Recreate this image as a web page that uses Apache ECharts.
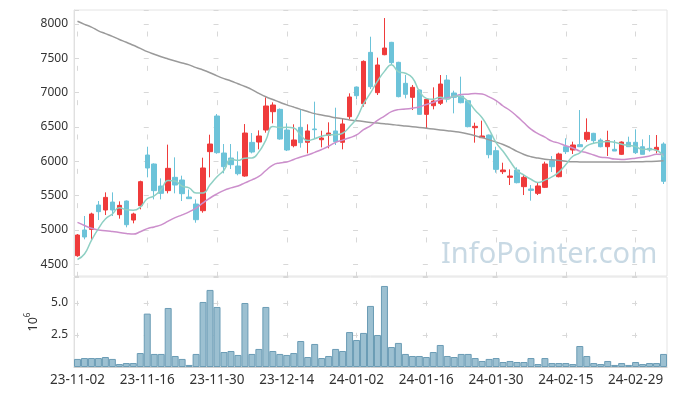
<!DOCTYPE html>
<html>
<head>
<meta charset="utf-8">
<script src="https://cdn.jsdelivr.net/npm/echarts@6/dist/echarts.min.js"></script>
<style>
html,body{margin:0;padding:0;background:#fff;}
#chart{width:677px;height:396px;}
</style>
</head>
<body>
<div id="chart"></div>
<script>
const dates = ['23-11-02','23-11-03','23-11-06','23-11-07','23-11-08','23-11-09','23-11-10','23-11-13','23-11-14','23-11-15',
'23-11-16','23-11-17','23-11-20','23-11-21','23-11-22','23-11-23','23-11-24','23-11-27','23-11-28','23-11-29',
'23-11-30','23-12-01','23-12-04','23-12-05','23-12-06','23-12-07','23-12-08','23-12-11','23-12-12','23-12-13',
'23-12-14','23-12-15','23-12-18','23-12-19','23-12-20','23-12-21','23-12-22','23-12-26','23-12-27','23-12-28',
'24-01-02','24-01-03','24-01-04','24-01-05','24-01-08','24-01-09','24-01-10','24-01-11','24-01-12','24-01-15',
'24-01-16','24-01-17','24-01-18','24-01-19','24-01-22','24-01-23','24-01-24','24-01-25','24-01-26','24-01-29',
'24-01-30','24-01-31','24-02-01','24-02-02','24-02-05','24-02-06','24-02-07','24-02-08','24-02-13','24-02-14',
'24-02-15','24-02-16','24-02-19','24-02-20','24-02-21','24-02-22','24-02-23','24-02-26','24-02-27','24-02-28',
'24-02-29','24-03-04','24-03-05','24-03-06','24-03-07'];

const opens = [4626,5000,5009,5364,5291,5407,5223,5422,5145,5354,
6092,5961,5640,5573,5767,5728,5480,5378,5281,6141,
6660,6121,6048,5932,5786,6276,6281,6456,6723,6757,
6456,6228,6495,6277,6471,6315,6378,6442,6277,6650,
7082,6840,7587,7000,7553,7733,7442,7136,6932,7039,
6684,6810,6845,7184,6995,6951,6883,6490,6344,6383,
6155,5849,5767,5874,5631,5597,5534,5621,6009,5776,
6213,6165,6243,6320,6408,6310,6213,6175,6102,6277,
6277,6213,6189,6165,6252];
const closes = [4927,4898,5233,5267,5475,5291,5359,5077,5233,5704,
5903,5573,5534,5898,5655,5529,5456,5150,5903,6252,
6126,5922,5951,5820,6412,6136,6369,6806,6820,6325,
6165,6311,6272,6442,6461,6340,6412,6286,6544,6937,
6956,7456,7087,7403,7650,7437,6942,6976,7078,6684,
6903,6878,7126,6922,6932,6854,6505,6510,6369,6097,
5883,5874,5786,5689,5767,5577,5641,5961,5922,6107,
6141,6238,6213,6422,6301,6213,6301,6150,6281,6213,
6126,6102,6165,6204,5709];
const lows = [4610,4864,4854,5145,5218,5204,5165,5039,5097,5301,
5767,5446,5446,5534,5534,5422,5451,5106,5252,5767,
6110,5825,5888,5796,5776,6116,6175,6417,6553,6315,
6150,6204,6199,6116,6325,6204,6189,6238,6175,6611,
6903,6796,7053,6966,7545,7403,6932,6917,6747,6680,
6480,6757,6820,6859,6699,6845,6495,6272,6340,6044,
5835,5815,5655,5679,5509,5427,5509,5611,5844,5767,
6107,6107,6208,6286,6262,6204,6078,6150,6092,6213,
6107,6102,6141,6116,5670];
const highs = [4940,5204,5252,5422,5548,5548,5417,5430,5252,5718,
6213,5970,5752,6243,6058,5791,5590,5446,6053,6388,
6689,6252,6252,6145,6543,6412,6451,6932,6859,6770,
6553,6539,6747,6539,6869,6446,6568,6781,6626,6990,
7090,7470,7815,7510,8087,7740,7450,7257,7112,7045,
6910,7078,7257,7257,7029,7233,6890,6563,6592,6390,
6213,5980,5883,5912,5810,5655,5689,5995,6077,6126,
6335,6286,6747,6626,6415,6335,6446,6310,6291,6359,
6466,6320,6383,6383,6277];

const ma5 = [4570,4650,4850,5020,5160,5233,5325,5294,5287,5333,
5455,5498,5589,5722,5713,5638,5614,5538,5539,5658,
5777,5871,6031,6014,6046,6048,6138,6309,6509,6491,
6497,6485,6379,6303,6330,6365,6385,6388,6409,6504,
6627,6836,6996,7168,7310,7407,7304,7282,7217,7023,
6917,6904,6934,6903,6952,6942,6868,6745,6634,6467,
6273,6147,6002,5866,5800,5739,5692,5727,5774,5842,
5954,6074,6124,6224,6263,6277,6290,6277,6249,6232,
6214,6174,6177,6162,6061];
const ma20 = [5110,5065,5025,5000,4990,4978,4965,4950,4940,4975,
5020,5045,5075,5130,5180,5220,5265,5320,5395,5466,
5526,5577,5613,5641,5687,5730,5780,5867,5946,5977,
5990,6027,6064,6091,6131,6172,6220,6277,6309,6343,
6384,6461,6518,6597,6659,6724,6753,6761,6774,6792,
6829,6857,6900,6924,6947,6973,6978,6989,6980,6938,
6885,6806,6740,6655,6561,6468,6403,6352,6294,6265,
6227,6195,6149,6124,6093,6061,6051,6033,6028,6034,
6046,6058,6077,6102,6099];
const ma60 = [8040,7995,7955,7900,7860,7820,7775,7735,7690,7645,
7598,7560,7522,7490,7460,7432,7405,7365,7330,7290,
7245,7205,7170,7130,7090,7045,6990,6940,6900,6860,
6822,6790,6757,6725,6695,6675,6655,6635,6620,6603,
6592,6580,6567,6557,6547,6537,6525,6515,6505,6494,
6482,6470,6458,6446,6435,6420,6398,6373,6345,6312,
6280,6245,6200,6145,6100,6068,6048,6032,6022,6014,
6000,5993,5992,5991,5990,5990,5990,5990,5991,5992,
5993,5995,5998,6002,6008];

const volumes = [0.63,0.70,0.70,0.70,0.78,0.63,0.23,0.31,0.31,1.09,
4.17,1.02,1.02,4.61,0.86,0.63,0.16,1.02,5.08,6.02,
4.69,1.17,1.25,0.94,5.00,1.02,1.41,4.69,1.25,1.02,
0.94,1.09,2.03,0.78,1.80,0.70,0.86,1.41,1.25,2.73,
2.11,2.66,4.77,2.50,6.33,1.56,1.88,1.02,0.86,0.86,
0.78,1.17,1.72,0.86,0.78,1.02,1.02,0.70,0.47,0.63,
0.70,0.39,0.47,0.39,0.39,0.70,0.23,0.70,0.31,0.31,
0.31,0.23,1.64,0.86,0.31,0.23,0.47,0.16,0.31,0.16,
0.39,0.23,0.31,0.31,1.02];

const candleData = dates.map((d, i) => [opens[i], closes[i], lows[i], highs[i]]);

const FONT = 'Noto Sans';
const labelColor = '#333';
const gridColor = '#d8d8d8';
const borderColor = '#e4e4e4';
const colW = 593 / dates.length;

const chart = echarts.init(document.getElementById('chart'), null, {renderer: 'canvas'});
chart.setOption({
  animation: false,
  backgroundColor: '#fff',
  textStyle: {fontFamily: FONT},
  grid: [
    {left: 74, top: 10, width: 593, height: 266, show: true, borderColor: borderColor, borderWidth: 1},
    {left: 74, top: 277, width: 593, height: 90, show: true, borderColor: borderColor, borderWidth: 1}
  ],
  xAxis: [
    {
      type: 'category', data: dates, gridIndex: 0, boundaryGap: true,
      axisLine: {show: false}, axisTick: {show: false}, axisLabel: {show: false},
      splitLine: {show: true, interval: 9, alignWithLabel: true,
        lineStyle: {color: gridColor, width: 1, type: [5, 29.33], dashOffset: 12.83}}
    },
    {
      type: 'category', data: dates, gridIndex: 1, boundaryGap: true,
      axisLine: {show: true, lineStyle: {color: '#cfcfcf'}}, axisTick: {show: false},
      axisLabel: {show: true, interval: 9, color: labelColor, fontSize: 13.5, fontFamily: FONT, margin: 6},
      splitLine: {show: true, interval: 9, alignWithLabel: true,
        lineStyle: {color: gridColor, width: 1, type: [5, 27], dashOffset: 8.2}}
    }
  ],
  yAxis: [
    {
      type: 'value', gridIndex: 0, min: 4330, max: 8204, splitNumber: 8, scale: true,
      axisLine: {show: true, lineStyle: {color: '#e0e0e0'}}, axisTick: {show: false},
      axisLabel: {color: labelColor, fontSize: 12, fontFamily: FONT, margin: 6,
        showMinLabel: false, showMaxLabel: false, formatter: v => String(v)},
      splitLine: {show: true, lineStyle: {color: gridColor, width: 1, type: [5, colW * 10 - 5], dashOffset: 0}}
    },
    {
      type: 'value', gridIndex: 1, min: 0, max: 7.03, interval: 2.5,
      name: '{b|10}{s|6}', nameLocation: 'middle', nameRotate: 90, nameGap: 30,
      nameTextStyle: {rich: {
        b: {fontSize: 12.5, color: labelColor, fontFamily: FONT, lineHeight: 16, verticalAlign: 'bottom'},
        s: {fontSize: 8, color: labelColor, fontFamily: FONT, lineHeight: 16, verticalAlign: 'top'}
      }},
      axisLine: {show: true, lineStyle: {color: '#e0e0e0'}}, axisTick: {show: false},
      axisLabel: {color: labelColor, fontSize: 12, fontFamily: FONT, margin: 6,
        showMinLabel: false, showMaxLabel: false, formatter: v => v.toFixed(1)},
      splitLine: {show: true, lineStyle: {color: gridColor, width: 1, type: [5, colW * 10 - 5], dashOffset: 0}}
    }
  ],
  graphic: [{
    type: 'text', left: 441, top: 240, z: 0, silent: true,
    style: {text: 'InfoPointer.com', fontSize: 29, fontFamily: FONT, fill: 'rgba(145,180,202,0.5)'}
  }],
  series: [
    {
      type: 'candlestick', xAxisIndex: 0, yAxisIndex: 0, data: candleData, barWidth: 5, z: 3,
      itemStyle: {color: '#ef3b3b', color0: '#6cc3d9', borderColor: '#ef3b3b', borderColor0: '#6cc3d9', borderWidth: 1}
    },
    {type: 'line', name: 'MA60', xAxisIndex: 0, yAxisIndex: 0, data: ma60, smooth: true, symbol: 'none', z: 4,
      lineStyle: {color: '#9a9a9a', width: 1.5}},
    {type: 'line', name: 'MA20', xAxisIndex: 0, yAxisIndex: 0, data: ma20, smooth: true, symbol: 'none', z: 4,
      lineStyle: {color: '#cc8fcc', width: 1.5}},
    {type: 'line', name: 'MA5', xAxisIndex: 0, yAxisIndex: 0, data: ma5, smooth: true, symbol: 'none', z: 4,
      lineStyle: {color: '#8fd0c4', width: 1.5}},
    {
      type: 'bar', xAxisIndex: 1, yAxisIndex: 1, data: volumes, barCategoryGap: '0%',
      itemStyle: {color: '#9cc0d1', borderColor: '#6b9cb5', borderWidth: 1}
    }
  ]
});
</script>
</body>
</html>
